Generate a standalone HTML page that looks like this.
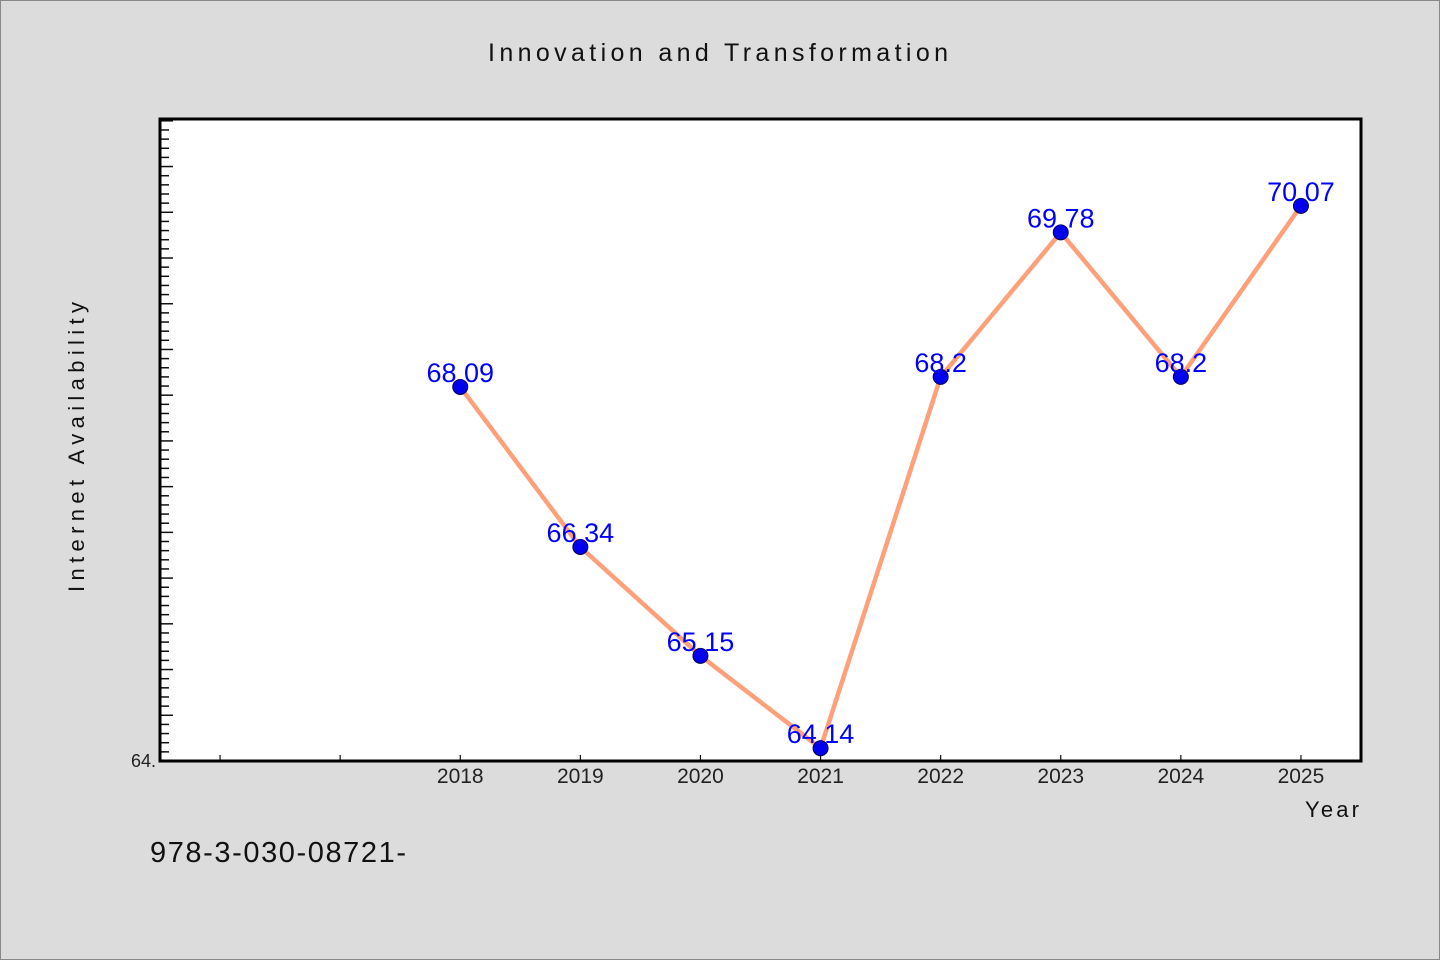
<!DOCTYPE html>
<html><head><meta charset="utf-8"><style>
html,body{margin:0;padding:0;background:#dcdcdc;}
svg{display:block;font-family:"WenQuanYi Zen Hei","Liberation Sans",sans-serif;}
</style></head><body>
<svg id="chart" width="1440" height="960" viewBox="0 0 1440 960">
<rect x="0.5" y="0.5" width="1439" height="959" fill="#dcdcdc" stroke="#888" stroke-width="1"/>
<text x="718" y="61" text-anchor="middle" font-size="25" fill="#111" textLength="460" lengthAdjust="spacing">Innovation and Transformation</text>
<rect x="160" y="119" width="1201" height="642" fill="#fff"/>
<g id="ticks"></g>
<g id="series"></g>
<rect x="160" y="119" width="1201" height="642" fill="none" stroke="#000" stroke-width="3"/>
<text transform="translate(84,447) rotate(-90)" text-anchor="middle" font-size="22" fill="#111" textLength="290" lengthAdjust="spacing">Internet Availability</text>
<text x="1359" y="817" text-anchor="end" font-size="22" fill="#111" textLength="54" lengthAdjust="spacing">Year</text>
<text x="156" y="767" text-anchor="end" font-size="18" fill="#222">64.</text>
<text x="150" y="862" font-size="29" fill="#111" textLength="256" lengthAdjust="spacing">978-3-030-08721-</text>
</svg>
<script>
const years = [2018, 2019, 2020, 2021, 2022, 2023, 2024, 2025];
const values = [68.09, 66.34, 65.15, 64.14, 68.2, 69.78, 68.2, 70.07];
const valueLabels = ["68.09", "66.34", "65.15", "64.14", "68.2", "69.78", "68.2", "70.07"];
const xTickYears = [2016, 2017, 2018, 2019, 2020, 2021, 2022, 2023, 2024, 2025];
const NS = "http://www.w3.org/2000/svg";
const X0 = 160, X1 = 1361, Y0 = 761, Y1 = 119;
const xMin = 2015.5, xMax = 2025.5, yMin = 64, yMax = 71.02;
function xs(v){ return X0 + (v - xMin) / (xMax - xMin) * (X1 - X0); }
function ys(v){ return Y0 - (v - yMin) / (yMax - yMin) * (Y0 - Y1); }
function mk(tag, attrs, parent){ const e = document.createElementNS(NS, tag); for (const k in attrs) e.setAttribute(k, attrs[k]); parent.appendChild(e); return e; }
const tg = document.getElementById("ticks");
for (let i = 1; i <= 70; i++) {
  const v = yMin + i * 0.1;
  if (v > yMax) break;
  const major = i % 5 === 0;
  const t = mk("line", {x1: X0, x2: X0 + (major ? 13 : 9), y1: ys(v), y2: ys(v), stroke: "#111", "stroke-width": 1.5}, tg);
  
  
}
xTickYears.forEach(function(yr){
  const t = mk("line", {x1: xs(yr), x2: xs(yr), y1: Y0, y2: Y0 - 6, stroke: "#111", "stroke-width": 1.2}, tg);
  
  
  if (yr >= 2018) {
    const l = mk("text", {x: xs(yr), y: Y0 + 22, "text-anchor": "middle", "font-size": 21, fill: "#222"}, tg);
    l.textContent = String(yr);
    
    
  }
});
const sg = document.getElementById("series");
const pts = years.map(function(y, i){ return xs(y) + "," + ys(values[i]); }).join(" ");
const line = mk("polyline", {points: pts, fill: "none", stroke: "#ffa07a", "stroke-width": 4.5, "stroke-linejoin": "round"}, sg);


years.forEach(function(y, i){
  const c = mk("circle", {cx: xs(y), cy: ys(values[i]), r: 7.5, fill: "#0000ee", stroke: "#000050", "stroke-width": 1}, sg);
  
  
});
years.forEach(function(y, i){
  const t = mk("text", {x: xs(y), y: ys(values[i]) - 5, "text-anchor": "middle", "font-size": 27, fill: "#0000ff"}, sg);
  t.textContent = valueLabels[i];
  
  
});
</script>
</body></html>
